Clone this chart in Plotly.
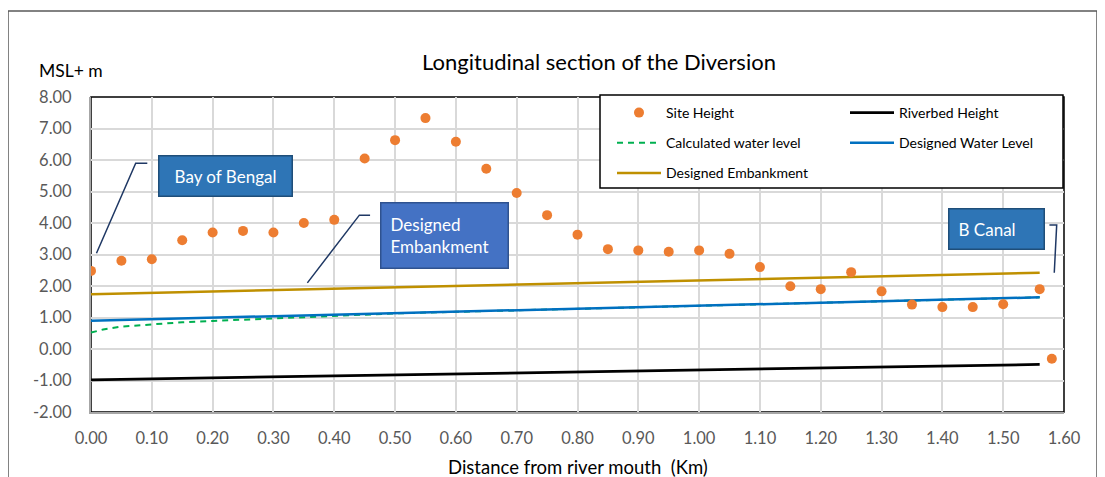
import plotly.graph_objects as go

# ---------------- data ----------------
site_x = [0.00, 0.05, 0.10, 0.15, 0.20, 0.25, 0.30, 0.35, 0.40, 0.45, 0.50, 0.55,
          0.60, 0.65, 0.70, 0.75, 0.80, 0.85, 0.90, 0.95, 1.00, 1.05, 1.10, 1.15,
          1.20, 1.25, 1.30, 1.35, 1.40, 1.45, 1.50, 1.56, 1.58]
site_y = [2.48, 2.80, 2.85, 3.45, 3.70, 3.75, 3.70, 4.00, 4.10, 6.05, 6.63, 7.33,
          6.58, 5.72, 4.95, 4.25, 3.63, 3.17, 3.13, 3.09, 3.13, 3.02, 2.60, 1.99,
          1.90, 2.44, 1.83, 1.41, 1.33, 1.33, 1.42, 1.90, -0.31]

line_x = [0.00, 1.56]
riverbed_y = [-0.98, -0.49]
designed_wl_y = [0.90, 1.64]
embankment_y = [1.74, 2.42]

calc_x = [0.00, 0.02, 0.05, 0.10, 0.15, 0.20, 0.25, 0.30, 0.35, 0.40, 0.45, 0.50,
          0.60, 0.70, 0.80, 0.90, 1.00, 1.10, 1.20, 1.30, 1.40, 1.50, 1.56]
calc_y = [0.52, 0.62, 0.71, 0.79, 0.85, 0.89, 0.93, 0.97, 1.01, 1.06, 1.10, 1.13,
          1.18, 1.23, 1.28, 1.33, 1.37, 1.42, 1.47, 1.52, 1.56, 1.61, 1.64]

x_ticks = [0.0, 0.1, 0.2, 0.3, 0.4, 0.5, 0.6, 0.7, 0.8, 0.9, 1.0, 1.1, 1.2, 1.3, 1.4, 1.5, 1.6]
x_tick_text = ["0.00", "0.10", "0.20", "0.30", "0.40", "0.50", "0.60", "0.70", "0.80",
               "0.90", "1.00", "1.10", "1.20", "1.30", "1.40", "1.50", "1.60"]
y_ticks = [-2, -1, 0, 1, 2, 3, 4, 5, 6, 7, 8]
y_tick_text = ["-2.00", "-1.00", "0.00", "1.00", "2.00", "3.00", "4.00", "5.00",
               "6.00", "7.00", "8.00"]

FONT = "Lato"

fig = go.Figure()
fig.add_trace(go.Scatter(x=calc_x, y=calc_y, mode="lines", name="Calculated water level",
                         line=dict(color="#00B050", width=2, dash="6px,5px"),
                         legend="legend", legendgroup="c", legendrank=2))
fig.add_trace(go.Scatter(x=line_x, y=riverbed_y, mode="lines", name="Riverbed Height",
                         line=dict(color="#000000", width=2.8),
                         legend="legend2", legendgroup="r", legendrank=1))
fig.add_trace(go.Scatter(x=line_x, y=embankment_y, mode="lines", name="Designed Embankment",
                         line=dict(color="#BF9000", width=2.5),
                         legend="legend", legendgroup="e", legendrank=3))
fig.add_trace(go.Scatter(x=line_x, y=designed_wl_y, mode="lines", name="Designed Water Level",
                         line=dict(color="#0070C0", width=2.5),
                         legend="legend2", legendgroup="w", legendrank=2))
fig.add_trace(go.Scatter(x=site_x, y=site_y, mode="markers", name="Site Height",
                         marker=dict(color="#ED7D31", size=10),
                         legend="legend", legendgroup="s", legendrank=1))

# page body adds an 8px offset; compensate
OFF = 8
W, H = 1105 - OFF, 477 - OFF
PL, PR, PT, PB = 91, 1064, 97, 412          # plot area in reference pixels
L, T = PL - OFF, PT - OFF
R, B = W - (PR - OFF), H - (PB - OFF)
pw, ph = W - L - R, H - T - B


def px_x(p):
    return (p - OFF - L) / pw


def px_y(p):
    return (H - B - (p - OFF)) / ph


shapes = [
    # outer chart border
    dict(type="rect", xref="paper", yref="paper", x0=px_x(8), x1=px_x(1097),
         y0=px_y(500), y1=px_y(11), line=dict(color="#595959", width=1.5), layer="below"),
    # plot area border
    dict(type="rect", xref="paper", yref="paper", x0=0, x1=1, y0=0, y1=1,
         line=dict(color="#000000", width=1.5), layer="between"),
    # legend box
    dict(type="rect", xref="paper", yref="paper", x0=px_x(600), x1=px_x(1063),
         y0=px_y(188), y1=px_y(95), line=dict(color="#000000", width=1.5),
         fillcolor="white", layer="above"),
    # callout leaders
    dict(type="path", xref="x", yref="y", path="M 0.009 3.04 L 0.0735 5.90 L 0.0926 5.90",
         line=dict(color="#1F3864", width=1.5), layer="above"),
    dict(type="path", xref="x", yref="y", path="M 0.3558 2.10 L 0.4413 4.25 L 0.4589 4.25",
         line=dict(color="#1F3864", width=1.5), layer="above"),
    dict(type="path", xref="x", yref="y", path="M 1.576 3.94 L 1.588 3.94 L 1.584 2.42",
         line=dict(color="#1F3864", width=1.5), layer="above"),
]

annotations = [
    dict(text="MSL+ m", xref="paper", yref="paper", x=px_x(37), y=px_y(70),
         xanchor="left", yanchor="middle", showarrow=False,
         font=dict(family=FONT, size=17.5, color="#000000")),
    dict(text="Distance from river mouth  (Km)", xref="paper", yref="paper",
         x=px_x(578), y=px_y(467), xanchor="center", yanchor="middle", showarrow=False,
         font=dict(family=FONT, size=18.5, color="#000000")),
    dict(text="Bay of Bengal", xref="paper", yref="paper", x=px_x(158), y=px_y(155),
         xanchor="left", yanchor="top", showarrow=False, align="center",
         width=132, height=39, borderpad=0, borderwidth=1.5,
         bgcolor="#2E75B6", bordercolor="#1F4E79",
         font=dict(family=FONT, size=17, color="white")),
    dict(text="Designed<br>Embankment", xref="paper", yref="paper", x=px_x(380), y=px_y(202),
         xanchor="left", yanchor="top", showarrow=False, align="left",
         width=108, height=46, borderpad=9, borderwidth=1.5,
         bgcolor="#4472C4", bordercolor="#2F528F",
         font=dict(family=FONT, size=17, color="white")),
    dict(text="B Canal", xref="paper", yref="paper", x=px_x(948), y=px_y(208),
         xanchor="left", yanchor="top", showarrow=False, align="left",
         width=76, height=21, borderpad=9, borderwidth=1.5,
         bgcolor="#2E75B6", bordercolor="#1F4E79",
         font=dict(family=FONT, size=17, color="white")),
]

fig.update_layout(
    width=W, height=H,
    margin=dict(l=L, r=R, t=T, b=B, autoexpand=False),
    paper_bgcolor="white", plot_bgcolor="white",
    font=dict(family=FONT, color="#595959"),
    title=dict(text="Longitudinal section of the Diversion", x=px_x(599), xref="paper",
               xanchor="center", y=1 - (62 - OFF) / H, yanchor="middle",
               font=dict(family=FONT, size=22, color="#000000")),
    xaxis=dict(range=[0, 1.6], tickvals=x_ticks, ticktext=x_tick_text, automargin=False,
               showgrid=True, gridcolor="#D9D9D9", gridwidth=1.5, zeroline=False,
               showline=True, linecolor="#A6A6A6", linewidth=2,
               ticks="outside", ticklen=10, tickcolor="rgba(0,0,0,0)",
               tickfont=dict(family=FONT, size=16.5, color="#595959")),
    yaxis=dict(range=[-2, 8], tickvals=y_ticks, ticktext=y_tick_text, automargin=False,
               showgrid=True, gridcolor="#D9D9D9", gridwidth=1.5, zeroline=False,
               showline=True, linecolor="#A6A6A6", linewidth=2,
               ticks="outside", ticklen=14, tickcolor="rgba(0,0,0,0)",
               tickfont=dict(family=FONT, size=16.5, color="#595959")),
    legend=dict(x=px_x(612), y=px_y(97), xanchor="left", yanchor="top",
                bgcolor="rgba(0,0,0,0)", borderwidth=0, traceorder="grouped",
                tracegroupgap=9, itemwidth=44,
                font=dict(family=FONT, size=14, color="#000000")),
    legend2=dict(x=px_x(845), y=px_y(97), xanchor="left", yanchor="top",
                 bgcolor="rgba(0,0,0,0)", borderwidth=0, traceorder="grouped",
                 tracegroupgap=9, itemwidth=44,
                 font=dict(family=FONT, size=14, color="#000000")),
    shapes=shapes,
    annotations=annotations,
    showlegend=True,
)

fig.write_html("out.html")
